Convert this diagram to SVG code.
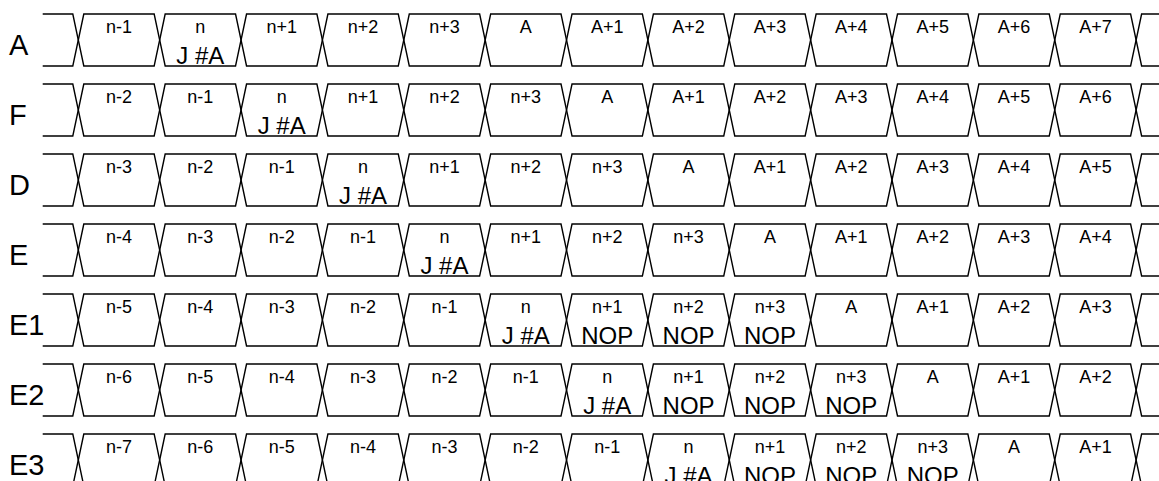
<svg xmlns="http://www.w3.org/2000/svg" xmlns:xlink="http://www.w3.org/1999/xlink" width="1159" height="481" viewBox="0 0 1159 481">
<style>
.w{fill:none;stroke:#000;stroke-width:1.4;stroke-linejoin:miter}
.rl{font-family:"Liberation Sans",Arial,sans-serif;font-size:29px;fill:#000}
.s{font-family:"Liberation Sans",Arial,sans-serif;font-size:18px;fill:#000;text-anchor:middle}
.b{font-family:"Liberation Sans",Arial,sans-serif;font-size:24px;fill:#000;text-anchor:middle}
</style>
<defs>
<polygon id="cell" class="w" points="5.5,0 75.87,0 81.37,26 75.87,52 5.5,52 0,26"/>
<polyline id="lead" class="w" points="42.7,0 72.8,0 78.3,26 72.8,52 42.7,52"/>
<polyline id="tail" class="w" points="1165,0 1141.61,0 1136.11,26 1141.61,52 1165,52"/>
<g id="frame">
<use href="#lead"/>
<use href="#cell" x="78.3"/><use href="#cell" x="159.67"/><use href="#cell" x="241.04"/><use href="#cell" x="322.41"/><use href="#cell" x="403.78"/><use href="#cell" x="485.15"/><use href="#cell" x="566.52"/><use href="#cell" x="647.89"/><use href="#cell" x="729.26"/><use href="#cell" x="810.63"/><use href="#cell" x="892"/><use href="#cell" x="973.37"/><use href="#cell" x="1054.74"/>
<use href="#tail"/>
</g>
</defs>

<g id="row-A" transform="translate(0,14)">
<use href="#frame"/>
<text class="rl" x="9" y="41">A</text>
<text class="s" x="119" y="19.3">n-1</text>
<text class="s" x="200.36" y="19.3">n</text><text class="b" x="200.36" y="49.5">J #A</text>
<text class="s" x="281.73" y="19.3">n+1</text>
<text class="s" x="363.1" y="19.3">n+2</text>
<text class="s" x="444.47" y="19.3">n+3</text>
<text class="s" x="525.84" y="19.3">A</text>
<text class="s" x="607.2" y="19.3">A+1</text>
<text class="s" x="688.58" y="19.3">A+2</text>
<text class="s" x="769.95" y="19.3">A+3</text>
<text class="s" x="851.3" y="19.3">A+4</text>
<text class="s" x="932.7" y="19.3">A+5</text>
<text class="s" x="1014.06" y="19.3">A+6</text>
<text class="s" x="1095.43" y="19.3">A+7</text>
</g>

<g id="row-F" transform="translate(0,84)">
<use href="#frame"/>
<text class="rl" x="9" y="41">F</text>
<text class="s" x="119" y="19.3">n-2</text>
<text class="s" x="200.36" y="19.3">n-1</text>
<text class="s" x="281.73" y="19.3">n</text><text class="b" x="281.73" y="49.5">J #A</text>
<text class="s" x="363.1" y="19.3">n+1</text>
<text class="s" x="444.47" y="19.3">n+2</text>
<text class="s" x="525.84" y="19.3">n+3</text>
<text class="s" x="607.2" y="19.3">A</text>
<text class="s" x="688.58" y="19.3">A+1</text>
<text class="s" x="769.95" y="19.3">A+2</text>
<text class="s" x="851.3" y="19.3">A+3</text>
<text class="s" x="932.7" y="19.3">A+4</text>
<text class="s" x="1014.06" y="19.3">A+5</text>
<text class="s" x="1095.43" y="19.3">A+6</text>
</g>

<g id="row-D" transform="translate(0,154)">
<use href="#frame"/>
<text class="rl" x="9" y="41">D</text>
<text class="s" x="119" y="19.3">n-3</text>
<text class="s" x="200.36" y="19.3">n-2</text>
<text class="s" x="281.73" y="19.3">n-1</text>
<text class="s" x="363.1" y="19.3">n</text><text class="b" x="363.1" y="49.5">J #A</text>
<text class="s" x="444.47" y="19.3">n+1</text>
<text class="s" x="525.84" y="19.3">n+2</text>
<text class="s" x="607.2" y="19.3">n+3</text>
<text class="s" x="688.58" y="19.3">A</text>
<text class="s" x="769.95" y="19.3">A+1</text>
<text class="s" x="851.3" y="19.3">A+2</text>
<text class="s" x="932.7" y="19.3">A+3</text>
<text class="s" x="1014.06" y="19.3">A+4</text>
<text class="s" x="1095.43" y="19.3">A+5</text>
</g>

<g id="row-E" transform="translate(0,224)">
<use href="#frame"/>
<text class="rl" x="9" y="41">E</text>
<text class="s" x="119" y="19.3">n-4</text>
<text class="s" x="200.36" y="19.3">n-3</text>
<text class="s" x="281.73" y="19.3">n-2</text>
<text class="s" x="363.1" y="19.3">n-1</text>
<text class="s" x="444.47" y="19.3">n</text><text class="b" x="444.47" y="49.5">J #A</text>
<text class="s" x="525.84" y="19.3">n+1</text>
<text class="s" x="607.2" y="19.3">n+2</text>
<text class="s" x="688.58" y="19.3">n+3</text>
<text class="s" x="769.95" y="19.3">A</text>
<text class="s" x="851.3" y="19.3">A+1</text>
<text class="s" x="932.7" y="19.3">A+2</text>
<text class="s" x="1014.06" y="19.3">A+3</text>
<text class="s" x="1095.43" y="19.3">A+4</text>
</g>

<g id="row-E1" transform="translate(0,294)">
<use href="#frame"/>
<text class="rl" x="9" y="41">E1</text>
<text class="s" x="119" y="19.3">n-5</text>
<text class="s" x="200.36" y="19.3">n-4</text>
<text class="s" x="281.73" y="19.3">n-3</text>
<text class="s" x="363.1" y="19.3">n-2</text>
<text class="s" x="444.47" y="19.3">n-1</text>
<text class="s" x="525.84" y="19.3">n</text><text class="b" x="525.84" y="49.5">J #A</text>
<text class="s" x="607.2" y="19.3">n+1</text><text class="b" x="607.2" y="49.5">NOP</text>
<text class="s" x="688.58" y="19.3">n+2</text><text class="b" x="688.58" y="49.5">NOP</text>
<text class="s" x="769.95" y="19.3">n+3</text><text class="b" x="769.95" y="49.5">NOP</text>
<text class="s" x="851.3" y="19.3">A</text>
<text class="s" x="932.7" y="19.3">A+1</text>
<text class="s" x="1014.06" y="19.3">A+2</text>
<text class="s" x="1095.43" y="19.3">A+3</text>
</g>

<g id="row-E2" transform="translate(0,364)">
<use href="#frame"/>
<text class="rl" x="9" y="41">E2</text>
<text class="s" x="119" y="19.3">n-6</text>
<text class="s" x="200.36" y="19.3">n-5</text>
<text class="s" x="281.73" y="19.3">n-4</text>
<text class="s" x="363.1" y="19.3">n-3</text>
<text class="s" x="444.47" y="19.3">n-2</text>
<text class="s" x="525.84" y="19.3">n-1</text>
<text class="s" x="607.2" y="19.3">n</text><text class="b" x="607.2" y="49.5">J #A</text>
<text class="s" x="688.58" y="19.3">n+1</text><text class="b" x="688.58" y="49.5">NOP</text>
<text class="s" x="769.95" y="19.3">n+2</text><text class="b" x="769.95" y="49.5">NOP</text>
<text class="s" x="851.3" y="19.3">n+3</text><text class="b" x="851.3" y="49.5">NOP</text>
<text class="s" x="932.7" y="19.3">A</text>
<text class="s" x="1014.06" y="19.3">A+1</text>
<text class="s" x="1095.43" y="19.3">A+2</text>
</g>

<g id="row-E3" transform="translate(0,434)">
<use href="#frame"/>
<text class="rl" x="9" y="41">E3</text>
<text class="s" x="119" y="19.3">n-7</text>
<text class="s" x="200.36" y="19.3">n-6</text>
<text class="s" x="281.73" y="19.3">n-5</text>
<text class="s" x="363.1" y="19.3">n-4</text>
<text class="s" x="444.47" y="19.3">n-3</text>
<text class="s" x="525.84" y="19.3">n-2</text>
<text class="s" x="607.2" y="19.3">n-1</text>
<text class="s" x="688.58" y="19.3">n</text><text class="b" x="688.58" y="49.5">J #A</text>
<text class="s" x="769.95" y="19.3">n+1</text><text class="b" x="769.95" y="49.5">NOP</text>
<text class="s" x="851.3" y="19.3">n+2</text><text class="b" x="851.3" y="49.5">NOP</text>
<text class="s" x="932.7" y="19.3">n+3</text><text class="b" x="932.7" y="49.5">NOP</text>
<text class="s" x="1014.06" y="19.3">A</text>
<text class="s" x="1095.43" y="19.3">A+1</text>
</g>

<g id="connectors"></g>
</svg>
